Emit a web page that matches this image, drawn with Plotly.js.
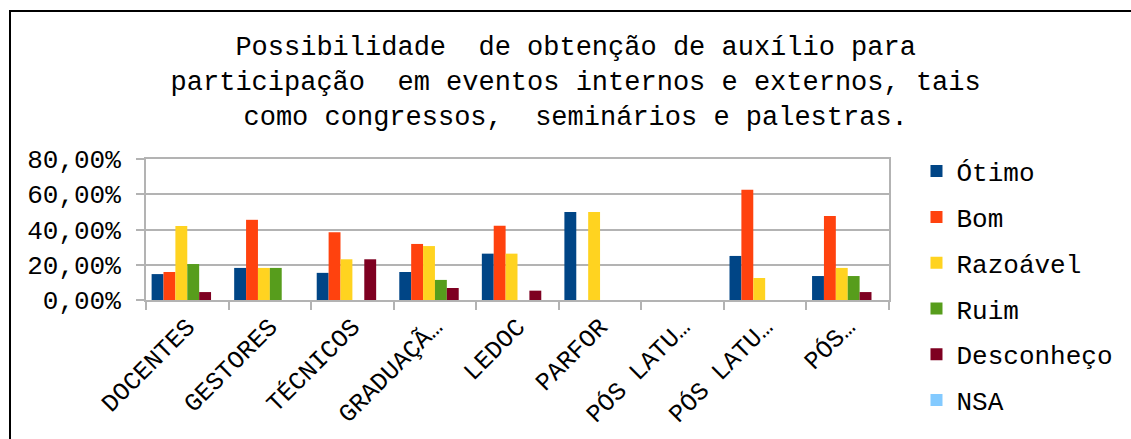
<!DOCTYPE html>
<html>
<head>
<meta charset="utf-8">
<script src="https://cdn.plot.ly/plotly-3.0.1.min.js"></script>
<style>
  html, body { margin: 0; padding: 0; background: #fff; overflow: hidden; }
  #chart { width: 1131px; height: 439px; }
  #frame { position: absolute; left: 9px; top: 10px; width: 1200px; height: 500px;
           border-left: 2px solid #000; border-top: 2px solid #000; pointer-events: none; }
</style>
</head>
<body>
<div id="chart"></div>
<div id="frame"></div>
<script>
const categories = ["DOCENTES", "GESTORES", "TÉCNICOS", "GRADUAÇÃ…", "LEDOC", "PARFOR", "PÓS LATU…", "PÓS LATU…", "PÓS…"];
const seriesNames = ["Ótimo", "Bom", "Razoável", "Ruim", "Desconheço", "NSA"];
const otimo      = [0.147, 0.182, 0.154, 0.159, 0.263, 0.50, 0, 0.25, 0.136];
const bom        = [0.159, 0.455, 0.385, 0.318, 0.421, 0, 0, 0.625, 0.477];
const razoavel   = [0.420, 0.182, 0.231, 0.306, 0.263, 0.50, 0, 0.125, 0.182];
const ruim       = [0.204, 0.182, 0, 0.114, 0, 0, 0, 0, 0.136];
const desconheco = [0.045, 0, 0.231, 0.068, 0.053, 0, 0, 0, 0.045];
const nsa        = [0, 0, 0, 0, 0, 0, 0, 0, 0];
const seriesValues = [otimo, bom, razoavel, ruim, desconheco, nsa];
const colors = ["#004586", "#ff420e", "#ffd320", "#579d1c", "#7e0021", "#83caff"];
const titleText = "Possibilidade\u00a0 de obtenção de auxílio para<br>participação\u00a0 em eventos internos e externos, tais<br>como congressos,\u00a0 seminários e palestras.";

const FONT = "Courier New, Liberation Mono, monospace";
const GRID = "#b3b3b3";
const idx = categories.map((_, i) => i);
const bounds = [];
for (let i = 0; i <= categories.length; i++) bounds.push(i - 0.5);

const traces = seriesNames.map((name, k) => ({
  type: "bar",
  name: name,
  x: idx,
  y: seriesValues[k],
  marker: { color: colors[k], line: { width: 0 } },
  legendgroup: "g" + k,
  hoverinfo: "x+y+name"
}));

const layout = {
  width: 1131,
  height: 439,
  paper_bgcolor: "#ffffff",
  plot_bgcolor: "#ffffff",
  separators: ",.",
  font: { family: FONT, size: 26, color: "#000" },
  margin: { l: 146, r: 235, t: 159, b: 139, pad: 0 },
  barmode: "group",
  bargap: 0.136,
  bargroupgap: 0,
  title: {
    text: titleText,
    font: { family: FONT, size: 27, color: "#000" },
    x: 0.509, xanchor: "center",
    xref: "container", yref: "container",
    y: 1 - 55 / 439, yanchor: "top",
    pad: { t: 0, b: 0, l: 0, r: 0 }
  },
  xaxis: {
    type: "linear",
    range: [-0.5, categories.length - 0.5],
    tickmode: "array",
    tickvals: idx,
    ticktext: categories,
    ticks: "",
    tickangle: -45,
    tickfont: { family: FONT, size: 25, color: "#000" },
    showgrid: false,
    zeroline: false,
    showline: true,
    linecolor: GRID,
    linewidth: 2,
    mirror: true,
    minor: {
      tickmode: "array",
      tickvals: bounds,
      ticks: "outside",
      ticklen: 8,
      tickwidth: 2,
      tickcolor: GRID,
      showgrid: false
    },
    fixedrange: true
  },
  yaxis: {
    range: [0, 0.8],
    tickmode: "linear",
    tick0: 0,
    dtick: 0.2,
    tickformat: ".2%",
    ticks: "outside",
    ticklen: 8,
    tickwidth: 2,
    tickcolor: GRID,
    ticklabelstandoff: 10,
    tickfont: { family: FONT, size: 26, color: "#000" },
    showgrid: true,
    gridcolor: GRID,
    gridwidth: 2,
    zeroline: false,
    showline: true,
    linecolor: GRID,
    linewidth: 2,
    mirror: true,
    fixedrange: true
  },
  showlegend: true,
  legend: {
    x: 1.037, xanchor: "left",
    y: 1.08, yanchor: "top",
    font: { family: FONT, size: 26, color: "#000" },
    tracegroupgap: 9,
    traceorder: "grouped",
    bgcolor: "rgba(0,0,0,0)",
    borderwidth: 0,
    maxheight: 2000
  }
};

Plotly.newPlot("chart", traces, layout, { displayModeBar: false, staticPlot: true });
</script>
</body>
</html>
